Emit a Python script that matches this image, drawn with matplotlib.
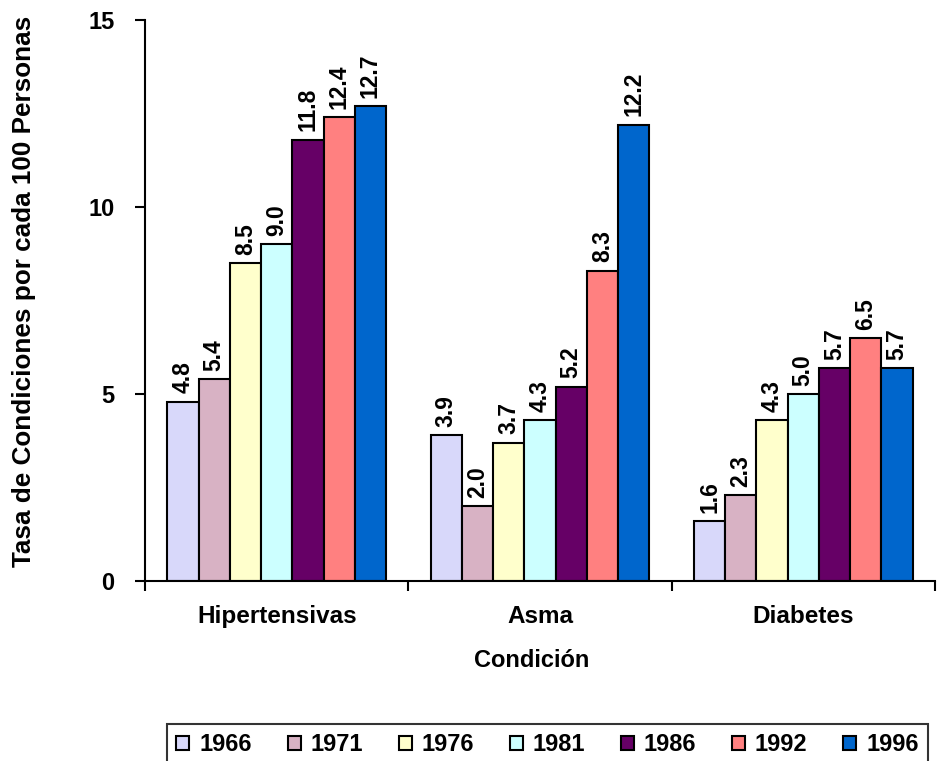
import numpy as np
import matplotlib
matplotlib.use('Agg')
from matplotlib import pyplot as plt
from matplotlib.patches import Patch

plt.rcParams['font.family'] = ['Liberation Sans', 'DejaVu Sans']
plt.rcParams['font.weight'] = 'bold'

# datos
categorias = ['Hipertensivas', 'Asma', 'Diabetes']
anios = ['1966', '1971', '1976', '1981', '1986', '1992', '1996']
valores = [
    [4.8, 3.9, 1.6],   # 1966
    [5.4, 2.0, 2.3],   # 1971
    [8.5, 3.7, 4.3],   # 1976
    [9.0, 4.3, 5.0],   # 1981
    [11.8, 5.2, 5.7],  # 1986
    [12.4, 8.3, 6.5],  # 1992
    [12.7, 12.2, 5.7], # 1996
]
colores = ['#D8D8FA', '#D8B2C4', '#FFFFCC', '#CCFFFF', '#660066', '#FF8080', '#0066CC']

fig = plt.figure(figsize=(9.43, 7.61), dpi=100)
ax = fig.add_axes([0.1538, 0.2365, 0.8377, 0.7372])

x = np.arange(len(categorias))
n = len(anios)
grupo = 0.83
ancho = grupo / n
for i in range(n):
    pos = x - grupo / 2 + ancho * (i + 0.5)
    barras = ax.bar(pos, valores[i], ancho, color=colores[i], edgecolor='black', linewidth=1.5)
    ax.bar_label(barras, fmt='%.1f', rotation=90, padding=6, fontsize=16.5, fontweight='bold')

ax.set_xlim(-0.5, 2.5)
ax.set_ylim(0, 15)
ax.set_yticks([0, 5, 10, 15])
ax.tick_params(axis='y', labelsize=17, length=7, width=1.5, pad=15)
ax.set_xticks([-0.5, 0.5, 1.5, 2.5])
ax.set_xticklabels([])
ax.set_xticks(x, minor=True)
ax.set_xticklabels(categorias, minor=True, fontsize=17.5, fontweight='bold')
ax.tick_params(axis='x', which='major', length=7, width=1.5)
ax.tick_params(axis='x', which='minor', length=0, pad=17)
for s in ['top', 'right']:
    ax.spines[s].set_visible(False)
for s in ['left', 'bottom']:
    ax.spines[s].set_linewidth(1.5)

ax.set_xlabel('Condición', fontsize=17, fontweight='bold')
ax.xaxis.set_label_coords(0.489, -0.122)
fig.text(24 / 943, 1 - 567 / 761, 'Tasa de Condiciones por cada 100 Personas', rotation=90,
         ha='center', va='bottom', fontsize=18.8, fontweight='bold')

handles = [Patch(facecolor=c, edgecolor='black', linewidth=1.5) for c in colores]
leg = fig.legend(handles, anios, loc='upper left', bbox_to_anchor=(167 / 943, 1 - 724 / 761, 761 / 943, 0.0),
                 mode='expand', ncol=7, fontsize=17, frameon=True, fancybox=False,
                 edgecolor='black', handlelength=0.55, handleheight=0.55, handletextpad=0.42,
                 borderaxespad=0, borderpad=0.4, columnspacing=1.0)
leg.get_frame().set_linewidth(1.5)

plt.savefig('out.png', dpi=100)
